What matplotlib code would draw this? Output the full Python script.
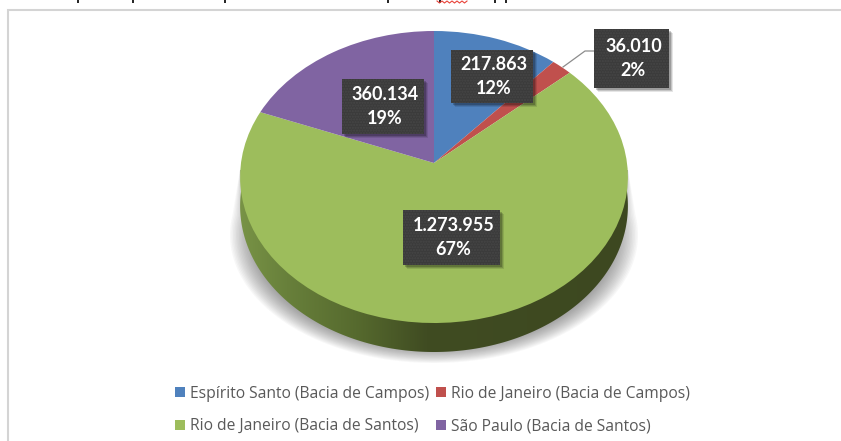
import numpy as np
import matplotlib
matplotlib.use("Agg")
import matplotlib.pyplot as plt
from matplotlib.patches import Rectangle, Patch, Polygon
from matplotlib.transforms import Transform

categories = ["Espírito Santo (Bacia de Campos)", "Rio de Janeiro (Bacia de Campos)",
              "Rio de Janeiro (Bacia de Santos)", "São Paulo (Bacia de Santos)"]
values = [217863, 36010, 1273955, 360134]
value_labels = ["217.863", "36.010", "1.273.955", "360.134"]
pct_labels = ["12%", "2%", "67%", "19%"]
colors = ["#4f81bd", "#c0504d", "#9dbd5c", "#8064a2"]

CX, CY, A, B, K = 434.0, 163.0, 144.66, 193.0, 0.0959
DEPTH = 29


class Tilt(Transform):
    """Perspective view of the unit-circle pie, output in pixel-like data units."""
    input_dims = output_dims = 2
    is_separable = False

    def __init__(self, dy=0.0):
        super().__init__()
        self.dy = dy

    def transform_non_affine(self, xy):
        xy = np.asarray(xy, float)
        d = 1 + K * xy[:, 1]
        return np.column_stack([CX + B * xy[:, 0] / d, CY + self.dy - A * xy[:, 1] / d])


fig = plt.figure(figsize=(8.41, 4.41), dpi=100, facecolor="white")
ax = fig.add_axes([0, 0, 1, 1])
wedges, _ = ax.pie(values, colors=colors, startangle=90, counterclock=False, radius=1,
                   wedgeprops=dict(linewidth=0), frame=False)
for w in wedges:
    w.set_transform(Tilt() + ax.transData)
    w.set_zorder(4)

# frame of the chart area
ax.plot([8, 8, 841], [441, 9.5, 9.5], color="#d4d4d4", lw=1.5, zorder=1, solid_joinstyle="miter")

# soft shadow below the pie: nested translucent outlines that taper towards the top
n_layers = 16
sh_th = np.radians(np.linspace(171, 369, 240))
for i in range(n_layers):
    s = 1 - 0.11 * i / (n_layers - 1)
    px = CX + 204 * s * np.cos(sh_th)
    py = 235 - 128 * s * np.sin(sh_th)
    top = np.array([[CX - 194, 170], [CX + 194, 170]])
    outline = np.vstack([top[:1], np.column_stack([px, py]), top[1:]])
    ax.add_patch(Polygon(outline, closed=True, facecolor="#555555", edgecolor="none", alpha=0.045, lw=0, zorder=2))

# extruded side of the pie, shaded from left to right
th = np.linspace(np.pi, 2 * np.pi, 200)
circ = np.column_stack([np.cos(th), np.sin(th)])
grad_x = np.array([0.0, 0.12, 0.3, 0.48, 1.0])
grad_c = np.array([[0x78, 0x93, 0x46], [0x68, 0x80, 0x3b], [0x56, 0x6a, 0x2e], [0x40, 0x4c, 0x22], [0x3d, 0x48, 0x20]]) / 255
t = np.linspace(0, 1, 400)
grad = np.stack([np.interp(t, grad_x, grad_c[:, i]) for i in range(3)], axis=-1)[None, :, :]
im = ax.imshow(grad, extent=(240, 628, 360, 170), aspect="auto", zorder=3)
side_pts = Tilt(DEPTH).transform(circ)
side_top = Tilt(0).transform(circ[[0, -1]])
clip = Polygon(np.vstack([side_top[:1], side_pts, side_top[1:]]), closed=True,
               transform=ax.transData, facecolor="none", edgecolor="none")
ax.add_patch(clip)
im.set_clip_path(clip)

# leader line of the small slice
ax.plot([563, 585, 594], [67, 51, 51], color="#8c8c8c", lw=0.9, zorder=5)

# data labels
boxes = [(451, 50, 82, 53), (594, 29, 75, 59), (403, 210, 97, 55), (342, 79, 82, 55)]
for (x, y, w, h), v, p in zip(boxes, value_labels, pct_labels):
    for off, a in ((4, 0.10), (3, 0.14), (2, 0.20)):
        ax.add_patch(Rectangle((x + off, y + off), w, h, facecolor="black", alpha=a, lw=0, zorder=6))
    ax.add_patch(Rectangle((x, y), w, h, facecolor="#3b3b3b", edgecolor="#464646", hatch="......",
                           lw=0, zorder=7))
    ax.text(x + w / 2 + 2, y + h / 2 - 12, v, color="white", fontsize=13, fontweight="bold",
            family="Lato", ha="center", va="center", zorder=8)
    ax.text(x + w / 2 + 2, y + h / 2 + 12, p, color="white", fontsize=13, fontweight="bold",
            family="Lato", ha="center", va="center", zorder=8)

# legend
handles = [Patch(facecolor=c, linewidth=0) for c in colors]
order = [0, 2, 1, 3]
ax.legend([handles[i] for i in order], [categories[i] for i in order], ncol=2,
          loc="center", bbox_to_anchor=(432.5 / 841, 1 - 410 / 441), frameon=False,
          prop=dict(family="Open Sans", size=11.25), labelcolor="#595959",
          handlelength=0.64, handleheight=0.64, handletextpad=0.3, columnspacing=0.45,
          labelspacing=1.05, borderpad=0, borderaxespad=0)

# only the cut-off lower tips of a line above the chart remain visible
for x in [78, 133, 225, 388, 440, 495, 506]:
    ax.plot([x, x], [0, 2.5], color="#222222", lw=1.4, zorder=5, clip_on=False, solid_capstyle="butt")
sq_x = np.arange(437, 468, 2.5)
ax.plot(sq_x, 2 + np.resize([-1.0, 1.0], sq_x.size), color="#e8433a", lw=0.8, zorder=5, clip_on=False)

ax.set_xlim(0, 841)
ax.set_ylim(441, 0)
ax.set_aspect("auto")
ax.axis("off")
fig.savefig("out.png", dpi=100, facecolor="white")
